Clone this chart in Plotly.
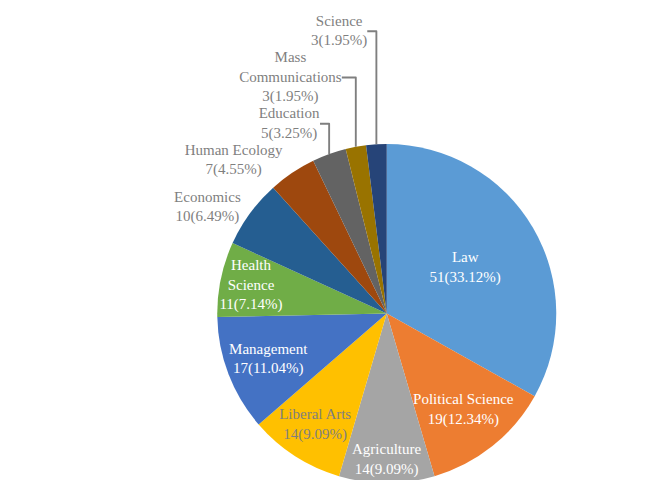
import plotly.graph_objects as go

categories = ["Law", "Political Science", "Agriculture", "Liberal Arts", "Management",
              "Health Science", "Economics", "Human Ecology", "Education",
              "Mass Communications", "Science"]
display_names = ["Law", "Political Science", "Agriculture", "Liberal Arts", "Management",
                 "Health<br>Science", "Economics", "Human Ecology", "Education",
                 "Mass<br>Communications", "Science"]
counts = [51, 19, 14, 14, 17, 11, 10, 7, 5, 3, 3]
colors = ["#5B9BD5", "#ED7D31", "#A5A5A5", "#FFC000", "#4472C4", "#70AD47",
          "#255E91", "#9E480E", "#636363", "#997300", "#264478"]
positions = ["inside"] * 6 + ["outside"] * 5
inside_colors = ["white", "white", "white", "#7F7F7F", "white", "white",
                 "white", "white", "white", "white", "white"]

FONT = "Liberation Serif"

fig = go.Figure(go.Pie(
    labels=categories,
    values=counts,
    customdata=display_names,
    texttemplate="%{customdata}<br>%{value}(%{percent:.2%})",
    textposition=positions,
    insidetextorientation="horizontal",
    insidetextfont=dict(color=inside_colors, size=15, family=FONT),
    outsidetextfont=dict(color="#7F7F7F", size=15, family=FONT),
    marker=dict(colors=colors, line=dict(color="white", width=0)),
    sort=False,
    direction="clockwise",
    rotation=0,
    showlegend=False,
    domain=dict(x=[0.25, 1.0], y=[0.0, 1.0]),
    hoverinfo="label+value+percent",
))

fig.update_layout(
    width=669, height=480,
    margin=dict(l=0, r=0, t=0, b=0),
    paper_bgcolor="white",
    uniformtext=dict(minsize=15, mode="show"),
    font=dict(family=FONT, color="#7F7F7F", size=15),
)

fig.write_html("out.html")
